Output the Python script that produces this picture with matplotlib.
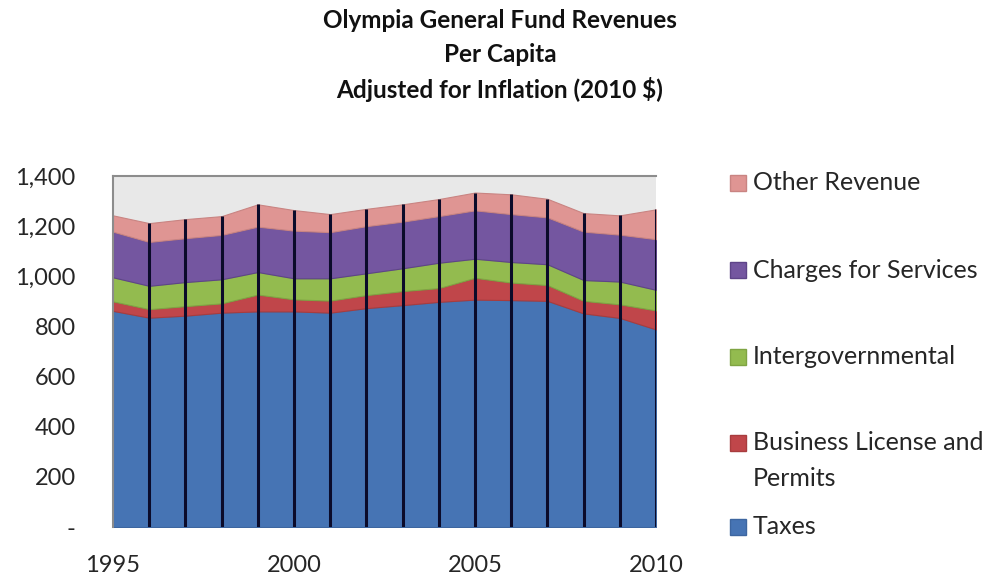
import matplotlib
matplotlib.use("Agg")
import matplotlib.pyplot as plt
from matplotlib.patches import Rectangle
import numpy as np

plt.rcParams['font.family'] = ['Lato', 'DejaVu Sans']

# per-capita revenue, 2010 dollars
years = np.arange(1995, 2011)
taxes = [862, 835, 843, 855, 860, 860, 855, 873, 885, 898, 907, 905, 902, 852, 834, 788]
business = [38, 34, 38, 37, 67, 48, 48, 52, 56, 55, 87, 70, 63, 50, 54, 76]
intergov = [96, 93, 96, 96, 90, 84, 89, 87, 91, 101, 76, 82, 83, 83, 91, 82]
charges = [182, 175, 175, 177, 181, 190, 184, 188, 186, 186, 193, 191, 187, 193, 187, 202]
other = [65, 75, 76, 75, 89, 82, 72, 69, 69, 68, 71, 79, 74, 74, 77, 119]

labels = ['Taxes', 'Business License and\nPermits', 'Intergovernmental',
          'Charges for Services', 'Other Revenue']
colors = ['#4674b4', '#c0464a', '#93bb4f', '#7456a0', '#df9593']
edges = ['#3d66a0', '#a83c3e', '#7fa443', '#5e4488', '#c98482']

fig = plt.figure(figsize=(9.97, 5.77), dpi=100)
ax = fig.add_axes([113 / 997, 50 / 577, 543 / 997, 351 / 577])
ax.set_facecolor('#e8e8e8')

series = [taxes, business, intergov, charges, other]
polys = ax.stackplot(years, *series, colors=colors, linewidth=0.8)
for p, ec in zip(polys, edges):
    p.set_edgecolor(ec)

# drop lines from the stack top down to the axis
totals = np.sum(series, axis=0)
ax.vlines(years[1:], 0, totals[1:], colors='#0b0b2a', linewidth=2.2, zorder=3)

ax.set_xlim(1995, 2010)
ax.set_ylim(0, 1400)
ax.set_xticks([1995, 2000, 2005, 2010])
ax.set_yticks(range(0, 1401, 200))
ax.set_yticklabels(['-'] + ['{:,}'.format(v) for v in range(200, 1401, 200)])
ax.tick_params(axis='both', length=0, labelsize=17, colors='#262626')
ax.tick_params(axis='x', pad=20)
ax.tick_params(axis='y', pad=27)

for s in ['top', 'left']:
    ax.spines[s].set_color('#8c8c8c')
    ax.spines[s].set_linewidth(1.5)
ax.spines['right'].set_visible(False)
ax.spines['bottom'].set_visible(False)

title_lines = ['Olympia General Fund Revenues', 'Per Capita',
               'Adjusted for Inflation (2010 $)']
for line, y in zip(title_lines, [21, 55, 90]):
    fig.text(500 / 997, 1 - y / 577, line, ha='center', va='center',
             fontsize=17.5, fontweight='bold', color='#111111')

# legend, top to bottom
leg_y = [527, 443, 357, 270, 183]
for lab, col, ec, y in zip(labels, colors, edges, leg_y):
    fig.patches.append(Rectangle((730 / 997, 1 - (y + 8) / 577), 16 / 997, 16 / 577,
                                 facecolor=col, edgecolor=ec, linewidth=1,
                                 transform=fig.transFigure))
    first, *rest = lab.split('\n')
    fig.text(753 / 997, 1 - y / 577, first, ha='left', va='center',
             fontsize=18, color='#262626')
    for k, line in enumerate(rest):
        fig.text(753 / 997, 1 - (y + 35 * (k + 1)) / 577, line, ha='left', va='center',
                 fontsize=18, color='#262626')

fig.savefig('out.png', dpi=100, facecolor='white')
